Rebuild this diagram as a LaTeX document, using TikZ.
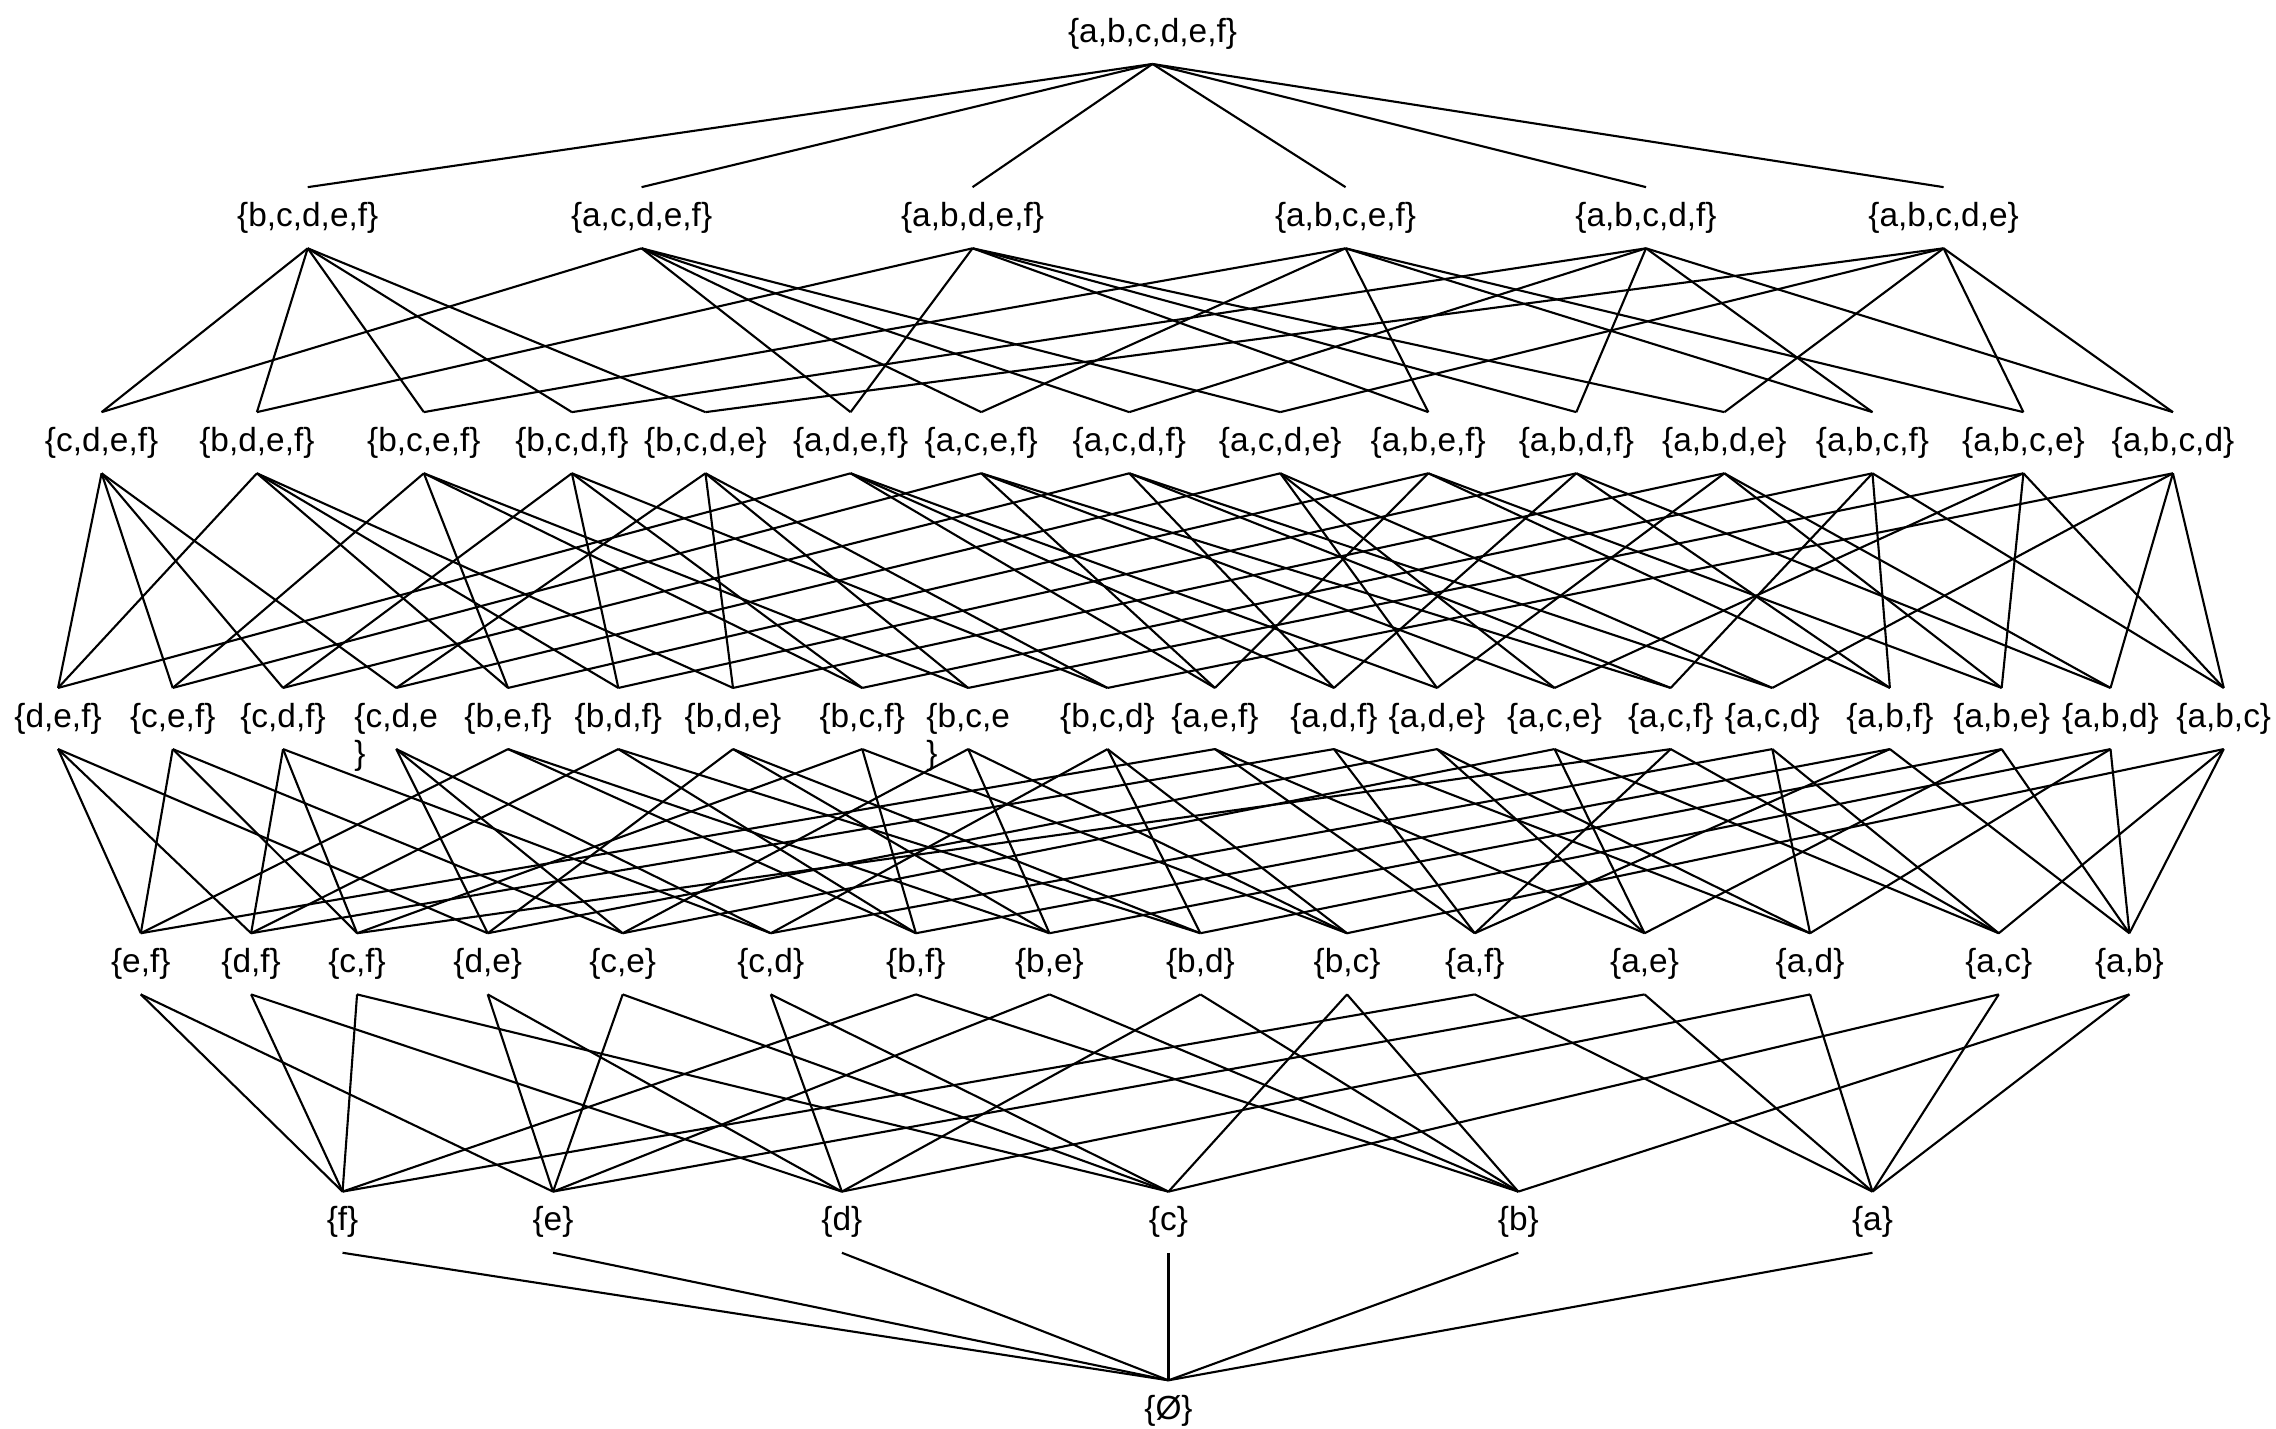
\documentclass[tikz,border=0pt]{standalone}
\usepackage{fontspec}
\setmainfont{Liberation Sans}
\usepackage{xstring}
\tikzset{subset/.style={inner xsep=1pt,inner ysep=4pt,text height=7pt,text depth=2pt,font=\fontsize{9.5}{11}\selectfont},
  cover/.style={line width=.6pt}}
\newcommand{\wrapbrace}{\smash{\rlap{\raisebox{-10.5pt}{\}}}}}
\begin{document}
\begin{tikzpicture}[x=0.014515cm,y=-0.014515cm]
\useasboundingbox (0,0) rectangle (1568,984);
% rows of subsets, largest on top
\node[subset] (nabcdef) at (794,23) {\{a,b,c,d,e,f\}};
\foreach \n/\x/\lab in {nbcdef/212/{\{b,c,d,e,f\}},nacdef/442/{\{a,c,d,e,f\}},nabdef/670/{\{a,b,d,e,f\}},
  nabcef/927/{\{a,b,c,e,f\}},nabcdf/1134/{\{a,b,c,d,f\}},nabcde/1339/{\{a,b,c,d,e\}}}
  \node[subset] (\n) at (\x,150) {\lab};
\foreach \n/\x/\lab in {ncdef/70/{\{c,d,e,f\}},nbdef/177/{\{b,d,e,f\}},nbcef/292/{\{b,c,e,f\}},nbcdf/394/{\{b,c,d,f\}},
  nbcde/486/{\{b,c,d,e\}},nadef/586/{\{a,d,e,f\}},nacef/676/{\{a,c,e,f\}},nacdf/778/{\{a,c,d,f\}},nacde/882/{\{a,c,d,e\}},
  nabef/984/{\{a,b,e,f\}},nabdf/1086/{\{a,b,d,f\}},nabde/1188/{\{a,b,d,e\}},nabcf/1290/{\{a,b,c,f\}},nabce/1394/{\{a,b,c,e\}},
  nabcd/1497/{\{a,b,c,d\}}}
  \node[subset] (\n) at (\x,305) {\lab};
\foreach \n/\x/\lab in {ndef/40/{\{d,e,f\}},ncef/119/{\{c,e,f\}},ncdf/195/{\{c,d,f\}},ncde/273/{\wrapbrace\{c,d,e},
  nbef/350/{\{b,e,f\}},nbdf/426/{\{b,d,f\}},nbde/505/{\{b,d,e\}},nbcf/594/{\{b,c,f\}},nbce/667/{\wrapbrace\{b,c,e},
  nbcd/763/{\{b,c,d\}},naef/837/{\{a,e,f\}},nadf/919/{\{a,d,f\}},nade/990/{\{a,d,e\}},nace/1071/{\{a,c,e\}},
  nacf/1151/{\{a,c,f\}},nacd/1221/{\{a,c,d\}},nabf/1302/{\{a,b,f\}},nabe/1379/{\{a,b,e\}},nabd/1454/{\{a,b,d\}},
  nabc/1532/{\{a,b,c\}}}
  \node[subset] (\n) at (\x,495) {\lab};
\foreach \n/\x/\lab in {nef/97/{\{e,f\}},ndf/173/{\{d,f\}},ncf/246/{\{c,f\}},nde/336/{\{d,e\}},nce/429/{\{c,e\}},
  ncd/531/{\{c,d\}},nbf/631/{\{b,f\}},nbe/723/{\{b,e\}},nbd/827/{\{b,d\}},nbc/928/{\{b,c\}},naf/1016/{\{a,f\}},
  nae/1133/{\{a,e\}},nad/1247/{\{a,d\}},nac/1377/{\{a,c\}},nab/1467/{\{a,b\}}}
  \node[subset] (\n) at (\x,664) {\lab};
\foreach \n/\x/\lab in {nf/236/{\{f\}},ne/381/{\{e\}},nd/580/{\{d\}},nc/805/{\{c\}},nb/1046/{\{b\}},na/1290/{\{a\}}}
  \node[subset] (\n) at (\x,842) {\lab};
\node[subset] (n) at (805,972) {\{Ø\}};
% each set covers the sets with one element removed
\foreach \up in {nabcdef,nbcdef,nacdef,nabdef,nabcef,nabcdf,nabcde,
  ncdef,nbdef,nbcef,nbcdf,nbcde,nadef,nacef,nacdf,nacde,nabef,nabdf,nabde,nabcf,nabce,nabcd,
  ndef,ncef,ncdf,ncde,nbef,nbdf,nbde,nbcf,nbce,nbcd,naef,nadf,nade,nace,nacf,nacd,nabf,nabe,nabd,nabc,
  nef,ndf,ncf,nde,nce,ncd,nbf,nbe,nbd,nbc,naf,nae,nad,nac,nab,nf,ne,nd,nc,nb,na}{
  \foreach \ch in {a,b,c,d,e,f}{
    \IfSubStr{\up}{\ch}{\StrDel{\up}{\ch}[\lo]\draw[cover] (\up.south) -- (\lo.north);}{}
  }
}
\end{tikzpicture}
\end{document}
